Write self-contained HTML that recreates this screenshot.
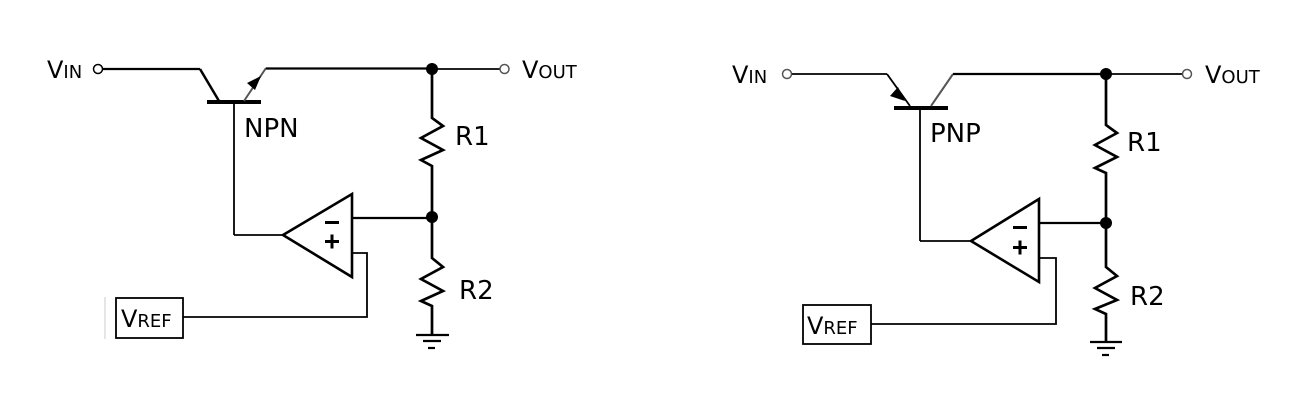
<!DOCTYPE html>
<html><head><meta charset="utf-8"><style>
html,body{margin:0;padding:0;background:#fff;}
svg{display:block;}
text{font-family:"DejaVu Sans","Liberation Sans",sans-serif;fill:#000;}
</style></head><body>
<svg width="1310" height="401" viewBox="0 0 1310 401" xmlns="http://www.w3.org/2000/svg">
<g fill="none" stroke="#000" stroke-width="2.2">
<!-- LEFT: NPN -->
<circle cx="98" cy="69" r="4.5" stroke-width="1.5"/>
<line x1="103" y1="69" x2="200" y2="69"/>
<line x1="200" y1="69" x2="219" y2="101" stroke-width="2.5"/>
<line x1="207" y1="102" x2="261" y2="102" stroke-width="4"/>
<line x1="244" y1="101" x2="266" y2="68" stroke="#555" stroke-width="2"/>
<line x1="266" y1="68.5" x2="432" y2="68.5"/>
<line x1="432" y1="69" x2="500" y2="69" stroke="#222" stroke-width="2"/>
<circle cx="504.5" cy="69" r="4.5" stroke="#555" stroke-width="1.5"/>
<line x1="234" y1="102" x2="234" y2="235" stroke-width="1.8"/>
<line x1="234" y1="235" x2="283" y2="235" stroke-width="1.8"/>
<polygon points="283,235 352,194 352,277" stroke-width="2.6"/>
<line x1="352" y1="218" x2="432" y2="218"/>
<polyline points="432,69 432,118 443,126 421,138 443,150 421,160 432,166 432,258 443,267 421,279 443,291 421,301 432,306 432,335" stroke-width="2.7"/>
<line x1="416" y1="335" x2="449" y2="335"/>
<line x1="423" y1="341" x2="441" y2="341"/>
<line x1="428" y1="348" x2="435" y2="348"/>
<polyline points="352,253 367,253 367,317 183,317" stroke-width="1.8"/>
<rect x="116" y="298" width="67" height="40" stroke-width="1.8"/>
<line x1="105" y1="297" x2="105" y2="339" stroke="#ccc" stroke-width="1"/>

<!-- RIGHT: PNP -->
<circle cx="787" cy="74" r="4.5" stroke="#555" stroke-width="1.5"/>
<line x1="792" y1="74" x2="887" y2="74" stroke-width="1.8"/>
<line x1="887" y1="74" x2="910" y2="106" stroke-width="1.8"/>
<line x1="894" y1="108" x2="948" y2="108" stroke-width="4"/>
<line x1="931" y1="106" x2="953" y2="74" stroke="#555" stroke-width="2"/>
<line x1="953" y1="74" x2="1106" y2="74"/>
<line x1="1106" y1="74" x2="1182" y2="74" stroke-width="1.8"/>
<circle cx="1187" cy="74" r="4.5" stroke="#555" stroke-width="1.5"/>
<line x1="920" y1="108" x2="920" y2="241" stroke-width="1.8"/>
<line x1="920" y1="241" x2="971" y2="241" stroke-width="1.8"/>
<polygon points="971,241 1039,199 1039,282" stroke-width="2.6"/>
<line x1="1039" y1="223" x2="1106" y2="223"/>
<polyline points="1106,74 1106,125 1117,133 1095,145 1117,157 1095,168 1106,173 1106,267 1117,276 1095,288 1117,300 1095,309 1106,314 1106,342" stroke-width="2.7"/>
<line x1="1090" y1="342" x2="1122" y2="342"/>
<line x1="1097" y1="348" x2="1115" y2="348"/>
<line x1="1102" y1="355" x2="1109" y2="355"/>
<polyline points="1039,258 1056,258 1056,324 871,324" stroke-width="1.8"/>
<rect x="803" y="305" width="68" height="39" stroke-width="1.8"/>
</g>
<g fill="#000">
<circle cx="432" cy="69" r="6"/>
<circle cx="432" cy="217" r="6"/>
<circle cx="1106" cy="74" r="6"/>
<circle cx="1106" cy="223" r="6"/>
<polygon points="261,76 247,83 255,90"/>
<polygon points="905,101 890,96 898,87"/>
<rect x="325" y="221" width="14" height="3"/>
<rect x="325" y="240" width="14" height="3"/>
<rect x="330.5" y="234.5" width="3" height="14"/>
<rect x="1013" y="226" width="14" height="3"/>
<rect x="1013" y="246" width="14" height="3"/>
<rect x="1018.5" y="240.5" width="3" height="14"/>
</g>
<g font-size="24">
<text x="47" y="78">V<tspan font-size="18">IN</tspan></text>
<text x="522" y="78">V<tspan font-size="18">OUT</tspan></text>
<text x="244" y="137" font-size="26">NPN</text>
<text x="455" y="145" font-size="26">R1</text>
<text x="459" y="299" font-size="26">R2</text>
<text x="121" y="327">V<tspan font-size="18">REF</tspan></text>
<text x="732" y="83">V<tspan font-size="18">IN</tspan></text>
<text x="1205" y="83">V<tspan font-size="18">OUT</tspan></text>
<text x="930" y="142" font-size="26">PNP</text>
<text x="1127" y="151" font-size="26">R1</text>
<text x="1130" y="305" font-size="26">R2</text>
<text x="807" y="334">V<tspan font-size="18">REF</tspan></text>
</g>
</svg>
</body></html>
